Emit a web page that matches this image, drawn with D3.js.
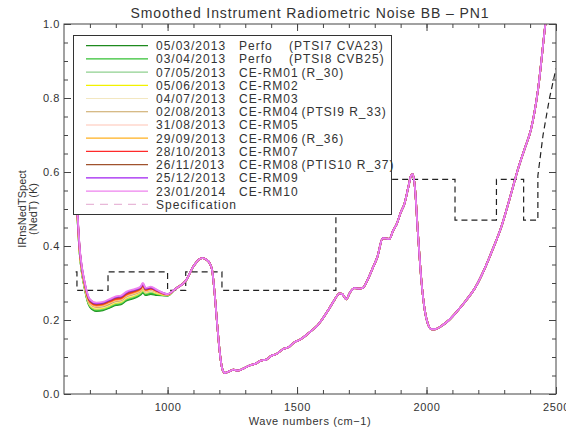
<!DOCTYPE html>
<html>
<head>
<meta charset="utf-8">
<script src="https://cdn.jsdelivr.net/npm/d3@7"></script>
<style>
  body { margin: 0; background: #fff; }
  text { font-family: "Liberation Sans", Arial, sans-serif; fill: #333; }
</style>
</head>
<body>
<div id="chart"></div>
<script>
// Width and height
var w = 566;
var h = 431;
var margin = {top: 24, right: 10, bottom: 37, left: 64};

// Legend entries (in legend order, drawn in this order too)
var dates = ["05/03/2013", "03/04/2013", "07/05/2013", "05/06/2013", "04/07/2013", "02/08/2013",
             "31/08/2013", "29/09/2013", "28/10/2013", "26/11/2013", "25/12/2013", "23/01/2014"];
var names = ["Perfo", "Perfo", "CE-RM01", "CE-RM02", "CE-RM03", "CE-RM04",
             "CE-RM05", "CE-RM06", "CE-RM07", "CE-RM08", "CE-RM09", "CE-RM10"];
var notes = ["(PTSI7 CVA23)", "(PTSI8 CVB25)", "(R_30)", "", "", "(PTSI9 R_33)",
             "", "(R_36)", "", "(PTIS10 R_37)", "", ""];
var colors = ["#1e8a1e", "#33c033", "#8fd08f", "#f2f200", "#f3e7c0", "#c9a35e",
              "#ffc4b4", "#ffb020", "#ff2a2a", "#a0522d", "#a020f0", "#ee82ee"];

// Band 1 region, where the measurements spread apart (one row per date)
var lowWave = [645, 660, 680, 700, 725, 750, 775, 800, 820, 840, 875, 895, 905, 915, 935, 960, 1000];
var lowBand = [
  [0.570,0.385,0.284,0.235,0.224,0.226,0.233,0.240,0.242,0.252,0.260,0.268,0.274,0.267,0.270,0.267,0.266],
  [0.571,0.386,0.286,0.237,0.226,0.228,0.235,0.242,0.244,0.254,0.262,0.270,0.277,0.269,0.272,0.269,0.266],
  [0.572,0.388,0.287,0.239,0.229,0.231,0.237,0.245,0.247,0.257,0.265,0.273,0.279,0.272,0.276,0.271,0.267],
  [0.574,0.389,0.289,0.241,0.231,0.233,0.239,0.247,0.249,0.259,0.267,0.275,0.281,0.274,0.278,0.272,0.267],
  [0.575,0.390,0.291,0.243,0.233,0.235,0.241,0.249,0.251,0.261,0.269,0.277,0.284,0.275,0.279,0.274,0.268],
  [0.576,0.392,0.292,0.244,0.235,0.237,0.243,0.251,0.253,0.263,0.271,0.278,0.286,0.277,0.281,0.275,0.268],
  [0.578,0.393,0.294,0.247,0.237,0.239,0.246,0.253,0.255,0.265,0.273,0.280,0.288,0.278,0.282,0.276,0.269],
  [0.579,0.394,0.296,0.249,0.239,0.241,0.248,0.255,0.257,0.267,0.275,0.282,0.291,0.280,0.284,0.277,0.269],
  [0.581,0.396,0.297,0.250,0.241,0.243,0.250,0.257,0.259,0.269,0.278,0.284,0.293,0.282,0.285,0.278,0.269],
  [0.582,0.397,0.299,0.252,0.243,0.245,0.252,0.260,0.262,0.272,0.280,0.286,0.296,0.283,0.287,0.279,0.270],
  [0.584,0.399,0.301,0.255,0.245,0.247,0.254,0.262,0.264,0.274,0.282,0.288,0.298,0.285,0.288,0.280,0.270],
  [0.585,0.400,0.302,0.256,0.247,0.249,0.256,0.264,0.266,0.276,0.284,0.290,0.300,0.287,0.290,0.281,0.270]
];

// Rest of the spectrum, where all curves lie on top of each other
var commonWave = [1030, 1070, 1100, 1120, 1135, 1150, 1162, 1172, 1182, 1192, 1202, 1212, 1222,
                  1240, 1255, 1270, 1290, 1316, 1340, 1360, 1381, 1400, 1420, 1445, 1470, 1490,
                  1509, 1530, 1550, 1574, 1600, 1625, 1645, 1664, 1675, 1690, 1705, 1722, 1740,
                  1754, 1770, 1792, 1810, 1831, 1845, 1857, 1870, 1885, 1900, 1915, 1930, 1940,
                  1947, 1955, 1966, 1980, 1993, 2005, 2020, 2033, 2060, 2087, 2120, 2154, 2190,
                  2222, 2255, 2289, 2320, 2356, 2380, 2403, 2430, 2459, 2480];
var commonValues = [0.284, 0.306, 0.345, 0.363, 0.367, 0.363, 0.354, 0.335, 0.270, 0.185, 0.110, 0.066, 0.057,
                    0.062, 0.066, 0.063, 0.068, 0.077, 0.082, 0.090, 0.093, 0.103, 0.108, 0.121, 0.128, 0.140,
                    0.146, 0.156, 0.168, 0.182, 0.205, 0.232, 0.255, 0.272, 0.270, 0.256, 0.275, 0.286, 0.285,
                    0.287, 0.305, 0.340, 0.370, 0.421, 0.420, 0.419, 0.440, 0.460, 0.490, 0.515, 0.560, 0.590,
                    0.594, 0.560, 0.443, 0.308, 0.227, 0.190, 0.175, 0.175, 0.185, 0.200, 0.225, 0.254, 0.290,
                    0.335, 0.390, 0.452, 0.525, 0.614, 0.665, 0.714, 0.820, 1.000, 1.120];

// Specification (step line)
var specWave  = [645, 650, 650, 770, 770, 1000, 1000, 1070, 1070, 1210, 1210, 1650, 1650, 2110, 2110,
                 2270, 2270, 2375, 2375, 2430, 2430, 2450, 2475, 2500];
var specValue = [0.33, 0.33, 0.28, 0.28, 0.33, 0.33, 0.28, 0.28, 0.33, 0.33, 0.28, 0.28, 0.58, 0.58, 0.47,
                 0.47, 0.58, 0.58, 0.47, 0.47, 0.59, 0.70, 0.80, 0.88];

var xTicks = [1000, 1500, 2000, 2500];
var yTicks = [0.0, 0.2, 0.4, 0.6, 0.8, 1.0];

//Scales
var x = d3.scaleLinear().domain([600, 2500]).range([margin.left, w - margin.right]);
var y = d3.scaleLinear().domain([0, 1]).range([h - margin.bottom, margin.top]);

//Create SVG element
var svg = d3.select("#chart")
            .append("svg")
            .attr("width", w)
            .attr("height", h);

svg.append("clipPath").attr("id", "plot")
   .append("rect")
   .attr("x", x.range()[0]).attr("y", y.range()[1])
   .attr("width", x.range()[1] - x.range()[0])
   .attr("height", y.range()[0] - y.range()[1]);

var line = d3.line()
             .x(function(d) { return x(d[0]); })
             .y(function(d) { return y(d[1]); })
             .curve(d3.curveMonotoneX);

// build each measurement: its own band-1 values, then the shared part
var series = lowBand.map(function(vals) {
    var pts = lowWave.map(function(wn, i) { return [wn, vals[i]]; });
    return pts.concat(commonWave.map(function(wn, i) { return [wn, commonValues[i]]; }));
});

var g = svg.append("g").attr("clip-path", "url(#plot)");

g.append("path")
 .attr("d", d3.line().x(function(d) { return x(d[0]); }).y(function(d) { return y(d[1]); })
        (specWave.map(function(wn, i) { return [wn, specValue[i]]; })))
 .attr("fill", "none")
 .attr("stroke", "#222")
 .attr("stroke-width", 1.2)
 .attr("stroke-dasharray", "6,4");

g.selectAll(".series")
 .data(series)
 .enter()
 .append("path")
 .attr("class", "series")
 .attr("d", line)
 .attr("fill", "none")
 .attr("stroke", function(d, i) { return colors[i]; })
 .attr("stroke-width", 1.8);

// Axes (ticks inside, on all four sides)
var axisColor = "#444";
function styleAxis(sel) {
    sel.select(".domain").remove();
    sel.selectAll("line").attr("stroke", axisColor);
    sel.selectAll("text").style("font-size", "11px").attr("fill", "#333").style("letter-spacing", "0.6px");
}
var xMinor = d3.range(700, 2500, 100);
var yMinor = d3.range(0.05, 1, 0.05);

svg.append("g").attr("transform", "translate(0," + y(0) + ")")
   .call(d3.axisBottom(x).tickValues(xMinor).tickSize(-4).tickFormat(""))
   .call(styleAxis);
svg.append("g").attr("transform", "translate(0," + y(0) + ")")
   .call(d3.axisBottom(x).tickValues(xTicks).tickSize(-7).tickPadding(9).tickFormat(d3.format("d")))
   .call(styleAxis);
svg.append("g").attr("transform", "translate(0," + y(1) + ")")
   .call(d3.axisTop(x).tickValues(xMinor).tickSize(-4).tickFormat(""))
   .call(styleAxis);
svg.append("g").attr("transform", "translate(0," + y(1) + ")")
   .call(d3.axisTop(x).tickValues(xTicks).tickSize(-7).tickFormat(""))
   .call(styleAxis);

svg.append("g").attr("transform", "translate(" + x(600) + ",0)")
   .call(d3.axisLeft(y).tickValues(yMinor).tickSize(-4).tickFormat(""))
   .call(styleAxis);
svg.append("g").attr("transform", "translate(" + x(600) + ",0)")
   .call(d3.axisLeft(y).tickValues(yTicks).tickSize(-7).tickPadding(4).tickFormat(d3.format(".1f")))
   .call(styleAxis);
svg.append("g").attr("transform", "translate(" + x(2500) + ",0)")
   .call(d3.axisRight(y).tickValues(yMinor).tickSize(-4).tickFormat(""))
   .call(styleAxis);
svg.append("g").attr("transform", "translate(" + x(2500) + ",0)")
   .call(d3.axisRight(y).tickValues(yTicks).tickSize(-7).tickFormat(""))
   .call(styleAxis);

// frame
svg.append("rect")
   .attr("x", x(600)).attr("y", y(1))
   .attr("width", x(2500) - x(600)).attr("height", y(0) - y(1))
   .attr("fill", "none").attr("stroke", axisColor).attr("stroke-width", 1);

// titles
svg.append("text")
   .attr("x", (x(600) + x(2500)) / 2).attr("y", 18)
   .attr("text-anchor", "middle")
   .style("font-size", "14px").style("letter-spacing", "0.9px")
   .text("Smoothed Instrument Radiometric Noise BB \u2013 PN1");

svg.append("text")
   .attr("x", (x(600) + x(2500)) / 2).attr("y", 425)
   .attr("text-anchor", "middle")
   .style("font-size", "11px").style("letter-spacing", "0.6px")
   .text("Wave numbers (cm\u22121)");

var yl = svg.append("text")
   .attr("transform", "translate(26," + ((y(0) + y(1)) / 2) + ") rotate(-90)")
   .attr("text-anchor", "middle")
   .style("font-size", "11px");
yl.append("tspan").attr("x", 0).attr("dy", 0).text("IRnsNedTSpect");
yl.append("tspan").attr("x", 0).attr("dy", 11).text("(NedT) (K)");

// legend
var lg = svg.append("g");
lg.append("rect")
  .attr("x", 73.5).attr("y", 35.5).attr("width", 318).attr("height", 179)
  .attr("fill", "#fff").attr("stroke", "#333").attr("stroke-width", 1);

var rowH = 13.23, row0 = 45.6;
var rows = lg.selectAll(".row")
  .data(dates)
  .enter()
  .append("g")
  .attr("transform", function(d, i) { return "translate(0," + (row0 + i * rowH) + ")"; });

rows.append("line")
    .attr("x1", 86).attr("x2", 148)
    .attr("stroke", function(d, i) { return colors[i]; })
    .attr("stroke-width", 1.2);
rows.append("text").attr("x", 156).attr("y", 4.5)
    .style("font-size", "12px").style("letter-spacing", "1px")
    .text(function(d) { return d; });
rows.append("text").attr("x", 239).attr("y", 4.5)
    .style("font-size", "12px").style("letter-spacing", "1px")
    .text(function(d, i) { return names[i]; });
rows.append("text").attr("x", function(d, i) { return names[i] === "Perfo" ? 289 : 301.5; }).attr("y", 4.5)
    .style("font-size", "12px").style("letter-spacing", "1px")
    .text(function(d, i) { return notes[i]; });

var specRow = lg.append("g").attr("transform", "translate(0," + (row0 + 12 * rowH) + ")");
specRow.append("line").attr("x1", 86).attr("x2", 148)
       .attr("stroke", "#e8b8d8").attr("stroke-width", 1.2).attr("stroke-dasharray", "8,6");
specRow.append("text").attr("x", 156).attr("y", 4.5)
       .style("font-size", "12px").style("letter-spacing", "1px")
       .text("Specification");
</script>
</body>
</html>
